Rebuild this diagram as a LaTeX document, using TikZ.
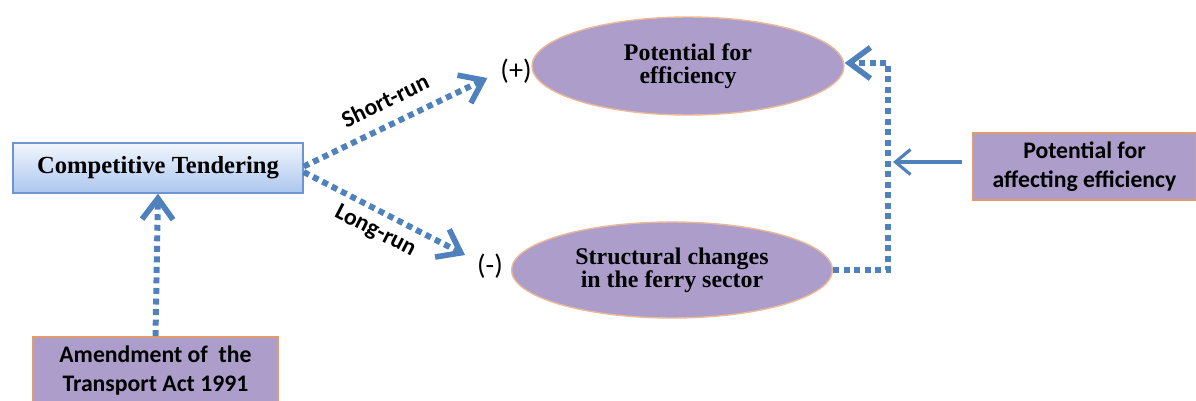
\documentclass[tikz,border=0pt]{standalone}
\usepackage{fontspec}
\setmainfont{Liberation Serif}
\newfontfamily\calibri{Carlito}
\usetikzlibrary{arrows.meta,shapes.geometric}

\definecolor{arrowblue}{HTML}{4F81BD}
\definecolor{lilac}{HTML}{AD9DCB}
\definecolor{rim}{HTML}{E39A6C}
\definecolor{cttop}{HTML}{F2F6FD}
\definecolor{ctbot}{HTML}{ABC6EE}
\definecolor{ctrim}{HTML}{6E95CF}

\tikzset{
  dotline/.style={draw=arrowblue,line width=3.4pt,dash pattern=on 3.4pt off 2.6pt,
    -{Straight Barb[length=0.42cm,width=0.62cm,line width=3.2pt]}},
  solidline/.style={draw=arrowblue,line width=1.8pt,
    -{Straight Barb[length=0.3cm,width=0.5cm,line width=1.8pt]}},
  bubble/.style={ellipse,fill=lilac,draw=rim!70,line width=0.8pt,align=center,
    font=\fontsize{13.6}{13.2}\selectfont\bfseries},
  lilacbox/.style={rectangle,fill=lilac,draw=rim,line width=1pt,align=center,
    font=\calibri\fontsize{13.5}{16.5}\selectfont\bfseries},
  runlabel/.style={sloped,font=\calibri\fontsize{13.5}{16}\selectfont\bfseries},
  sign/.style={font=\calibri\fontsize{16}{18}\selectfont,inner sep=1pt}
}

\begin{document}
\begin{tikzpicture}[x=0.02cm,y=-0.02cm]
  \useasboundingbox (0,0) rectangle (1196,400);

  % boxes and bubbles
  \node (ct) at (158,168)[rectangle,top color=cttop,bottom color=ctbot,draw=ctrim,
    line width=0.8pt,minimum width=5.8cm,minimum height=1cm,
    font=\fontsize{14}{16}\selectfont\bfseries]{Competitive Tendering};
  \node (amend) at (155.5,371)[lilacbox,minimum width=4.9cm,minimum height=1.36cm]
    {Amendment of \ the\\Transport Act 1991};
  \node (eff) at (688,66)[bubble,minimum width=6.24cm,minimum height=1.96cm]
    {Potential for\\efficiency};
  \node (struct) at (672,270)[bubble,minimum width=6.42cm,minimum height=1.92cm]
    {Structural changes\\in the ferry sector};
  \node (afct) at (1084.5,166.5)[lilacbox,minimum width=4.46cm,minimum height=1.34cm]
    {Potential for\\affecting efficiency};
  \node (plus) at (516,71)[sign]{(+)};
  \node (minus) at (490,266)[sign]{(-)};

  % connectors
  \draw[dotline] (amend.north) -- (ct.south);
  \draw[dotline] ([yshift=0.03cm]ct.east) -- ([shift={(-0.22cm,-0.14cm)}]plus.west)
    node[midway,runlabel,above=4pt]{Short-run};
  \draw[dotline] ([yshift=-0.08cm]ct.east) -- ([shift={(-0.2cm,0.22cm)}]minus.west)
    node[midway,runlabel,below=1pt]{Long-run};

  \coordinate (fb) at (888,166);
  \draw[dotline] (struct.east) -| (fb) |- ([yshift=0.06cm]eff.east);
  \draw[solidline,shorten <=0.2cm] ([yshift=0.09cm]afct.west) -- ([yshift=0.09cm,xshift=0.1cm]afct.west -| fb);
\end{tikzpicture}
\end{document}
